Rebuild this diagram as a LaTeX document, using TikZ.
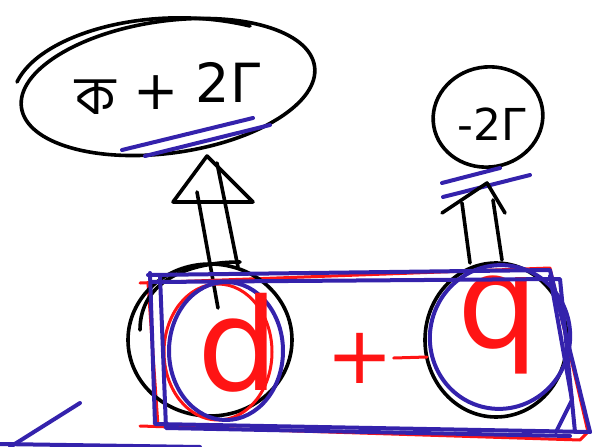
\documentclass[tikz,border=0pt]{standalone}
\usepackage{fontspec}
\setmainfont{DejaVu Sans}
\newfontfamily\bengalifont[Script=Bengali]{Hind Siliguri}
\definecolor{trazoazul}{RGB}{52,34,172}
\definecolor{trazorojo}{RGB}{255,20,20}
\tikzset{
  negro/.style={line width=3.6pt, line cap=round, line join=round},
  azul/.style={trazoazul, line width=4pt, line cap=round, line join=round},
  rojo/.style={trazorojo, line width=3pt, line cap=round, line join=round},
  letra/.style={inner sep=0pt, font=\fontsize{#1}{#1}\selectfont}
}
\begin{document}
\begin{tikzpicture}[x=1pt, y=-1pt]
  \useasboundingbox (0,0) rectangle (614,447);
  % elipse grande
  \draw[negro] (168,87) ellipse [x radius=148, y radius=66, rotate=8];
  \draw[negro] (17,82) .. controls (40,34) and (150,2) .. (250,26);
  \node[letra=54] (suma) at (168,88) {{\bengalifont ক}\raisebox{5pt}{ + }\raisebox{12pt}{2Γ}};
  \draw[azul] (122,150) -- (253,118);
  \draw[azul] (145,156) -- (270,125);
  % circulo pequeno
  \draw[negro] (488,117) ellipse [x radius=55, y radius=50, rotate=10];
  \node[letra=44] (menos) at (492,124) {-2Γ};
  \draw[azul] (442,183) -- (500,168);
  \draw[azul] (443,197) -- (530,175);
  % flecha hueca
  \draw[negro] (207,156) -- (173,202) -- (253,202) -- cycle;
  \draw[negro] (197,192) -- (218,308);
  \draw[negro] (217,163) -- (238,267);
  % flecha abierta
  \draw[negro] (442,213) -- (487,183) -- (505,213);
  \draw[negro] (462,203) -- (470,263);
  \draw[negro] (493,200) -- (502,260);
  % rectangulo rojo
  \draw[rojo] (140,283) -- (550,268) -- (588,432);
  \draw[rojo] (148,283) -- (158,426);
  \draw[rojo] (140,426) -- (580,440) -- (588,432);
  % circulos
  \draw[negro] (210,340) ellipse [x radius=82, y radius=76];
  \draw[negro] (140,330) .. controls (140,280) and (190,262) .. (240,262);
  \draw[rojo] (218,352) ellipse [x radius=54, y radius=68];
  \draw[azul] (226,351) ellipse [x radius=57, y radius=69];
  \draw[negro] (496,340) ellipse [x radius=71, y radius=77];
  \draw[azul] (500,337) ellipse [x radius=70, y radius=72, rotate=-15];
  % letras
  \node[letra=128, text=trazorojo] (letrad) at (238,343) {d};
  \node[letra=80, text=trazorojo] (mas) at (360,358) {+};
  \draw[rojo] (mas.east) -- (427,357);
  \node[letra=128, text=trazorojo] (letraq) at (498,325) {q};
  % rectangulo azul
  \draw[azul] (148,275) -- (550,270) -- (590,432);
  \draw[azul] (152,282) -- (560,279) -- (575,432);
  \draw[azul] (550,276) -- (572,400) -- (556,432);
  \draw[azul] (150,273) -- (155,424) -- (590,432);
  \draw[azul] (160,276) -- (166,428) -- (570,436);
  % trazos sueltos
  \draw[azul] (0,444) -- (200,447);
  \draw[azul] (80,403) -- (10,447);
\end{tikzpicture}
\end{document}
